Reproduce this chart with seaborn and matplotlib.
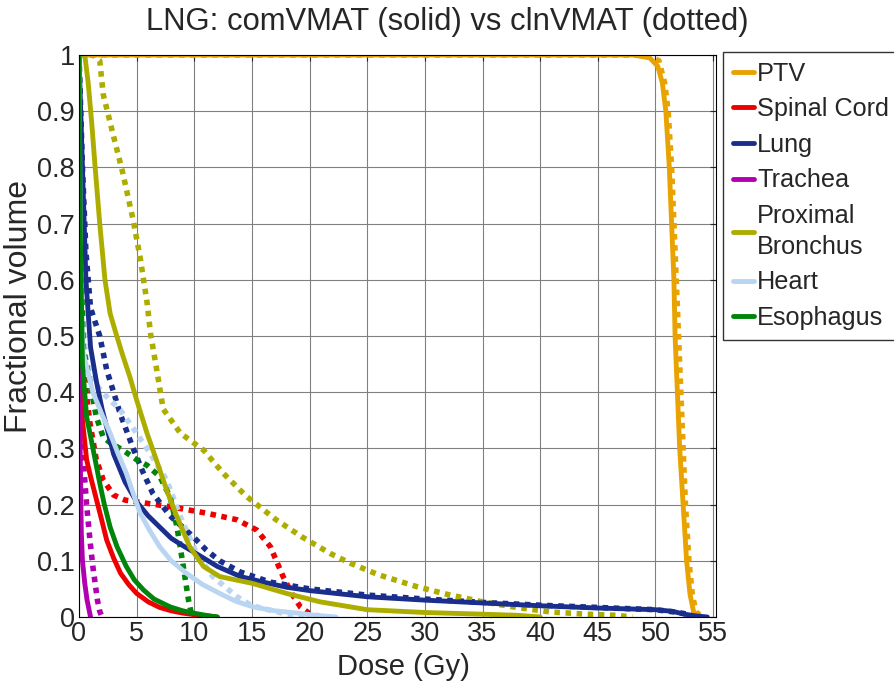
import numpy as np
import pandas as pd
import matplotlib
matplotlib.use('Agg')
import matplotlib.pyplot as plt
import seaborn as sns

# structure names / colours
names = ['PTV', 'Spinal Cord', 'Lung', 'Trachea', 'Proximal\nBronchus', 'Heart', 'Esophagus']
colors = ['#E8A202', '#EE0000', '#1A2E8E', '#B000B0', '#ADAD00', '#B9D5F2', '#00840A']

# DVH curves: dose (Gy), fractional volume
ptv_com_x = [0, 48, 49.5, 50.2, 50.6, 50.9, 51.2, 51.4, 51.6, 51.7, 51.9, 52.1, 52.4, 52.7, 53.0, 53.3, 53.6]
ptv_com_y = [1, 1, 0.995, 0.98, 0.95, 0.9, 0.8, 0.7, 0.6, 0.5, 0.4, 0.3, 0.2, 0.1, 0.04, 0.01, 0]
ptv_cln_x = [0, 49, 50.3, 50.8, 51.1, 51.4, 51.6, 51.8, 52.0, 52.2, 52.4, 52.6, 52.9, 53.2, 53.5, 54.0]
ptv_cln_y = [1, 1, 0.99, 0.95, 0.9, 0.8, 0.7, 0.6, 0.5, 0.4, 0.3, 0.2, 0.1, 0.04, 0.01, 0]

cord_com_x = [0, 0.1, 0.3, 0.66, 1, 1.5, 2, 2.4, 3, 3.6, 4.3, 5, 6, 7, 8, 9, 10, 11, 12]
cord_com_y = [1, 0.6, 0.35, 0.28, 0.25, 0.21, 0.17, 0.137, 0.105, 0.078, 0.058, 0.042, 0.027, 0.017, 0.011, 0.007, 0.004, 0.002, 0]
cord_cln_x = [0, 0.2, 0.5, 0.95, 1.5, 2.1, 3, 4, 5, 8, 11, 13.7, 15.4, 16.6, 17.7, 18.5, 19.2, 20, 21]
cord_cln_y = [1, 0.6, 0.42, 0.345, 0.28, 0.244, 0.217, 0.208, 0.205, 0.196, 0.185, 0.173, 0.155, 0.125, 0.072, 0.04, 0.018, 0.006, 0]

lung_com_x = [0, 0.3, 0.6, 1, 1.5, 2, 3, 4, 5, 6, 7, 8, 9, 10, 12, 14, 16, 18, 20, 25, 30, 35, 40, 45, 50, 51.5, 52.5, 53.5, 54.5]
lung_com_y = [1, 0.8, 0.6, 0.48, 0.42, 0.37, 0.29, 0.24, 0.205, 0.18, 0.16, 0.14, 0.127, 0.115, 0.09, 0.072, 0.062, 0.053, 0.047, 0.036, 0.03, 0.025, 0.02, 0.016, 0.013, 0.01, 0.005, 0.002, 0]
lung_cln_x = [0, 0.3, 0.6, 1, 1.8, 2.4, 3.6, 4.7, 5.5, 6.4, 7.9, 9.9, 11, 12.2, 14, 16.6, 20, 25, 30, 35, 40, 45, 50, 52, 53, 54]
lung_cln_y = [1, 0.8, 0.65, 0.55, 0.5, 0.44, 0.36, 0.3, 0.26, 0.22, 0.18, 0.143, 0.12, 0.1, 0.08, 0.062, 0.05, 0.039, 0.032, 0.026, 0.021, 0.017, 0.013, 0.008, 0.004, 0]

trach_com_x = [0, 0.05, 0.1, 0.2, 0.3, 0.5, 0.7, 0.9, 1.0]
trach_com_y = [1, 0.5, 0.3, 0.15, 0.1, 0.06, 0.03, 0.01, 0]
trach_cln_x = [0, 0.1, 0.2, 0.37, 0.66, 0.95, 1.2, 1.4, 1.6, 1.8, 2.0]
trach_cln_y = [1, 0.6, 0.4, 0.28, 0.2, 0.137, 0.09, 0.06, 0.03, 0.01, 0]

bronc_com_x = [0, 0.5, 0.8, 1.1, 1.4, 1.8, 2.25, 2.7, 3.2, 3.8, 4.4, 5, 5.9, 6.7, 7.6, 8.5, 9.6, 10.8, 12.2, 15, 18, 20.9, 25, 30, 35, 38, 40]
bronc_com_y = [1, 1, 0.95, 0.88, 0.8, 0.7, 0.6, 0.54, 0.505, 0.465, 0.428, 0.386, 0.327, 0.28, 0.226, 0.178, 0.125, 0.09, 0.072, 0.06, 0.042, 0.027, 0.013, 0.008, 0.005, 0.003, 0]
bronc_cln_x = [0, 1.2, 1.8, 2.1, 3, 3.8, 4.7, 5.3, 5.9, 6.2, 6.7, 7.3, 8.8, 10.8, 12.5, 14.5, 17.1, 19.3, 21.8, 23.5, 26, 29.3, 32, 35, 38, 40.9, 44, 46.6, 48]
bronc_cln_y = [1, 1, 0.99, 0.93, 0.855, 0.79, 0.706, 0.64, 0.56, 0.505, 0.445, 0.37, 0.327, 0.297, 0.256, 0.215, 0.173, 0.143, 0.113, 0.096, 0.075, 0.054, 0.04, 0.027, 0.017, 0.009, 0.005, 0.003, 0]

heart_com_x = [0, 0.1, 0.2, 0.37, 1.2, 2.0, 2.7, 3.4, 4.1, 4.7, 5.3, 6.1, 7, 8, 9.3, 10.7, 12.2, 13.6, 15.1, 17, 18.9, 20.5, 22.3]
heart_com_y = [1, 0.7, 0.55, 0.47, 0.4, 0.36, 0.327, 0.29, 0.256, 0.22, 0.185, 0.155, 0.125, 0.1, 0.078, 0.058, 0.042, 0.028, 0.018, 0.011, 0.007, 0.003, 0]
heart_cln_x = [0, 0.1, 0.3, 0.6, 1.2, 2.4, 3.6, 5, 6.2, 7.6, 8.8, 10.2, 11.6, 13.7, 15, 16.6, 18, 20]
heart_cln_y = [1, 0.75, 0.55, 0.46, 0.42, 0.392, 0.368, 0.327, 0.29, 0.244, 0.178, 0.113, 0.072, 0.036, 0.02, 0.012, 0.005, 0]

eso_com_x = [0, 0.1, 0.3, 0.66, 0.95, 1.4, 1.8, 2.2, 2.7, 3.3, 4.1, 4.8, 5.6, 6.5, 7.9, 9, 9.9, 11, 12]
eso_com_y = [1, 0.7, 0.45, 0.356, 0.327, 0.28, 0.238, 0.2, 0.16, 0.125, 0.09, 0.066, 0.048, 0.032, 0.018, 0.011, 0.007, 0.003, 0]
eso_cln_x = [0, 0.1, 0.2, 0.37, 0.95, 1.5, 2.1, 2.7, 3.8, 5, 5.9, 7, 7.9, 8.5, 9, 9.5, 9.8]
eso_cln_y = [1, 0.8, 0.6, 0.48, 0.416, 0.356, 0.32, 0.31, 0.297, 0.28, 0.27, 0.25, 0.214, 0.16, 0.096, 0.03, 0]

com = [(ptv_com_x, ptv_com_y), (cord_com_x, cord_com_y), (lung_com_x, lung_com_y),
       (trach_com_x, trach_com_y), (bronc_com_x, bronc_com_y), (heart_com_x, heart_com_y),
       (eso_com_x, eso_com_y)]
cln = [(ptv_cln_x, ptv_cln_y), (cord_cln_x, cord_cln_y), (lung_cln_x, lung_cln_y),
       (trach_cln_x, trach_cln_y), (bronc_cln_x, bronc_cln_y), (heart_cln_x, heart_cln_y),
       (eso_cln_x, eso_cln_y)]

sns.set_style('white')
plt.rcParams['font.family'] = ['Liberation Sans', 'DejaVu Sans']

fig = plt.figure(figsize=(8.95, 6.84), dpi=100)
ax = fig.add_axes([79/895, 1-617/684, (716-79)/895, (617-55)/684])

handles = []
# dotted (clnVMAT) first, then solid (comVMAT) on top
for (x, y), c in zip(cln, colors):
    sns.lineplot(x=x, y=y, color=c, lw=4.0, linestyle=(0, (1, 1)), ax=ax, sort=False)
for (x, y), c, n in zip(com, colors, names):
    sns.lineplot(x=x, y=y, color=c, lw=3.5, ax=ax, sort=False)
    handles.append(ax.lines[-1])

ax.set_xlim(0, 55.25)
ax.set_ylim(0, 1)
ax.set_xticks(np.arange(0, 56, 5))
ax.set_yticks(np.arange(0, 1.01, 0.1))
ax.set_yticklabels(['0'] + ['%.1f' % v for v in np.arange(0.1, 0.95, 0.1)] + ['1'])
ax.grid(True, color='#808080', lw=0.8)
ax.tick_params(direction='in', labelsize=19.5, top=True, right=True, length=4)
ax.tick_params(axis='x', pad=3)
ax.tick_params(axis='y', pad=3)
for s in ax.spines.values():
    s.set_color('black')
    s.set_linewidth(0.8)

ax.set_xlabel('Dose (Gy)', fontsize=21)
ax.xaxis.set_label_coords(0.51, -0.064)
ax.xaxis.label.set_va('top')
ax.set_ylabel('Fractional volume', fontsize=23)
ax.yaxis.set_label_coords(-0.071, 0.553)
fig.suptitle('LNG: comVMAT (solid) vs clnVMAT (dotted)', fontsize=22.3, x=0.5, y=0.99, va='top')

leg = fig.legend(handles, names, loc='upper left', bbox_to_anchor=(723/895, 1-52/684),
                 fontsize=18.2, frameon=True, fancybox=False, edgecolor='black',
                 handlelength=0.85, handletextpad=0.12, borderaxespad=0, labelspacing=0.46,
                 borderpad=0.38)
leg.get_frame().set_linewidth(1.0)
leg._legend_box.align = 'left'
for t in leg.get_texts():
    t.set_linespacing(1.35)

fig.savefig('out.png', dpi=100)
